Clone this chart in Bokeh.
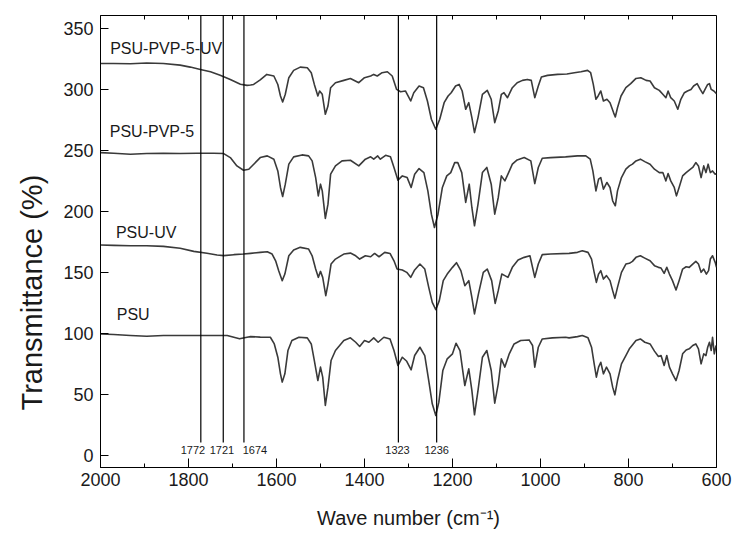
from bokeh.plotting import figure
from bokeh.models import Range1d, FixedTicker, Label, Title
from bokeh.embed import file_html
from bokeh.resources import INLINE

# ---------------- data ----------------
series_names = ["PSU", "PSU-UV", "PSU-PVP-5", "PSU-PVP-5-UV"]

wn_psu = [2000, 1970, 1932, 1895, 1857, 1819, 1781, 1743, 1712, 1697, 1684, 1667, 1659, 1637, 1614,
          1605, 1597, 1591, 1587, 1581, 1574, 1565, 1549, 1530, 1521, 1514, 1506, 1500, 1495, 1489,
          1483, 1476, 1466, 1447, 1432, 1420, 1411, 1400, 1390, 1379, 1369, 1356, 1342, 1333, 1324,
          1314, 1304, 1294, 1286, 1274, 1263, 1254, 1246, 1238, 1231, 1222, 1212, 1200, 1192, 1183,
          1172, 1163, 1156, 1150, 1142, 1132, 1122, 1112, 1104, 1096, 1089, 1081, 1071, 1060, 1045,
          1026, 1018, 1013, 1005, 996, 973, 943, 935, 916, 905, 892, 884, 878, 873, 868,
          863, 857, 850, 842, 836, 831, 825, 816, 806, 798, 792, 783, 773, 763, 751,
          741, 732, 726, 719, 713, 707, 700, 692, 685, 677, 669, 662, 654, 647, 641,
          635, 629, 624, 620, 616, 612, 609, 605, 601]
t_psu = [99.5, 99.0, 98.2, 97.6, 98.2, 98.2, 98.2, 98.2, 98.2, 96.8, 95.5, 96.8, 97.3, 96.9, 96.8,
         91.3, 80.4, 66.8, 60.0, 66.8, 85.9, 94.1, 96.8, 96.3, 91.3, 77.7, 61.3, 72.3, 64.1, 40.9,
         55.9, 77.7, 85.9, 94.1, 96.3, 92.7, 89.2, 94.1, 92.7, 96.3, 92.7, 96.8, 95.4, 85.9, 73.6,
         80.4, 77.1, 70.1, 81.8, 88.6, 81.8, 61.3, 42.2, 32.7, 43.6, 69.5, 79.1, 83.2, 91.9, 85.9,
         57.2, 70.9, 53.2, 33.2, 53.2, 80.4, 85.9, 69.5, 42.8, 58.6, 79.1, 72.3, 83.2, 91.3, 94.1,
         94.6, 90.0, 72.3, 88.6, 95.4, 96.3, 96.8, 96.3, 97.3, 98.2, 96.3, 88.6, 75.0, 64.1, 72.3,
         76.3, 66.8, 72.3, 66.8, 55.9, 49.6, 61.3, 75.0, 81.8, 87.3, 90.0, 94.1, 95.4, 92.7, 91.3,
         85.4, 81.0, 81.8, 73.6, 81.8, 72.3, 66.8, 61.3, 69.5, 83.2, 86.4, 87.3, 90.0, 91.3, 87.3,
         75.0, 83.2, 81.8, 88.6, 92.7, 85.9, 96.8, 83.2, 90.0]

wn_uv = [2000, 1970, 1932, 1895, 1857, 1819, 1788, 1758, 1735, 1720, 1697, 1675, 1659, 1637, 1621,
         1610, 1602, 1595, 1587, 1581, 1572, 1561, 1546, 1527, 1519, 1511, 1505, 1500, 1495, 1488,
         1483, 1476, 1466, 1447, 1432, 1420, 1411, 1398, 1386, 1377, 1367, 1354, 1342, 1333, 1326,
         1314, 1304, 1295, 1286, 1274, 1263, 1254, 1246, 1238, 1230, 1221, 1212, 1200, 1191, 1181,
         1172, 1163, 1156, 1150, 1141, 1130, 1121, 1111, 1103, 1096, 1088, 1081, 1074, 1064, 1051,
         1037, 1024, 1013, 1005, 996, 977, 935, 916, 905, 892, 884, 878, 873, 868, 863,
         857, 850, 842, 836, 831, 825, 816, 806, 798, 791, 783, 773, 763, 751, 741,
         732, 726, 719, 713, 707, 700, 692, 685, 677, 669, 662, 654, 647, 641, 635,
         629, 623, 618, 614, 609, 603, 600]
t_uv = [172.4, 172.1, 171.8, 171.8, 171.3, 169.7, 167.2, 165.6, 164.2, 163.7, 164.5, 165.0, 165.6, 166.4, 166.9,
        165.0, 159.5, 151.4, 143.2, 148.6, 163.6, 168.3, 170.5, 169.1, 163.6, 152.7, 145.9, 150.8, 145.9, 130.9,
        140.4, 156.8, 160.9, 165.0, 165.8, 163.6, 160.9, 163.6, 162.8, 165.5, 162.8, 166.4, 165.5, 159.5, 152.7,
        151.9, 150.0, 145.9, 152.0, 156.8, 152.7, 137.7, 125.4, 119.4, 126.8, 143.2, 148.6, 154.1, 157.9, 151.4,
        139.1, 143.2, 129.5, 115.9, 132.3, 150.0, 152.7, 143.2, 124.6, 135.0, 148.6, 147.3, 145.9, 154.1, 160.1,
        162.3, 163.6, 145.9, 156.8, 164.5, 165.0, 165.6, 166.4, 167.7, 166.4, 160.9, 150.0, 141.8, 148.6, 151.4,
        144.5, 147.3, 143.2, 135.0, 128.7, 137.7, 150.0, 156.8, 157.4, 159.0, 162.3, 163.6, 161.7, 159.5, 155.5,
        154.1, 153.5, 149.2, 154.1, 148.6, 143.2, 135.5, 143.2, 152.7, 154.6, 154.1, 156.8, 159.0, 156.8, 150.0,
        152.7, 148.6, 151.4, 160.9, 163.6, 158.2, 154.1]

wn_p5 = [2000, 1970, 1932, 1895, 1857, 1819, 1781, 1743, 1720, 1705, 1690, 1675, 1663, 1650, 1637,
         1621, 1606, 1597, 1591, 1586, 1580, 1572, 1561, 1542, 1527, 1519, 1511, 1505, 1500, 1496,
         1489, 1483, 1477, 1466, 1451, 1432, 1413, 1398, 1386, 1379, 1370, 1364, 1352, 1341, 1333,
         1324, 1314, 1303, 1294, 1286, 1276, 1265, 1256, 1248, 1241, 1233, 1223, 1213, 1204, 1195,
         1188, 1179, 1170, 1162, 1156, 1150, 1142, 1132, 1122, 1112, 1104, 1096, 1089, 1081, 1074,
         1064, 1053, 1037, 1022, 1013, 1005, 996, 977, 943, 916, 897, 887, 881, 874, 868,
         863, 857, 849, 842, 836, 830, 825, 816, 806, 798, 791, 783, 773, 763, 751,
         741, 730, 722, 715, 710, 704, 696, 691, 685, 677, 669, 662, 654, 647, 641,
         635, 629, 624, 619, 614, 609, 603, 600]
t_p5 = [248.2, 247.6, 246.8, 247.4, 247.6, 247.4, 247.6, 247.6, 247.4, 244.1, 237.3, 233.7, 234.5, 239.3, 244.1,
        245.5, 242.8, 233.2, 219.6, 212.2, 222.3, 238.7, 244.7, 246.3, 245.5, 241.4, 227.7, 212.7, 222.3, 216.8,
        194.2, 205.9, 230.5, 237.3, 241.4, 241.9, 237.3, 242.8, 244.7, 242.8, 245.5, 242.8, 246.0, 244.7, 236.0,
        225.6, 229.1, 227.7, 219.6, 230.5, 235.1, 231.8, 216.8, 197.7, 186.8, 197.7, 219.6, 229.1, 231.8, 240.0,
        240.0, 231.8, 207.3, 222.3, 203.2, 188.2, 205.9, 231.8, 236.0, 222.3, 197.7, 211.4, 229.1, 225.0, 230.5,
        238.7, 242.2, 244.1, 241.4, 222.8, 236.0, 243.6, 244.1, 244.7, 245.5, 245.5, 242.8, 233.2, 216.8, 226.4,
        227.7, 218.2, 223.7, 219.6, 208.7, 204.6, 216.8, 227.7, 234.6, 237.3, 238.7, 241.4, 242.8, 240.8, 238.7,
        234.6, 231.8, 231.8, 225.0, 231.0, 225.0, 219.6, 212.7, 219.6, 229.1, 231.8, 233.8, 236.0, 240.0, 237.3,
        227.7, 237.3, 231.8, 238.7, 231.8, 233.2, 230.5, 231.0]

wn_uv5 = [2000, 1970, 1932, 1895, 1857, 1819, 1796, 1773, 1750, 1728, 1705, 1682, 1667, 1659, 1652,
          1637, 1622, 1606, 1597, 1591, 1586, 1580, 1572, 1561, 1546, 1530, 1521, 1514, 1506, 1502,
          1496, 1489, 1483, 1477, 1466, 1447, 1432, 1413, 1400, 1386, 1379, 1371, 1360, 1348, 1337,
          1327, 1318, 1307, 1295, 1288, 1276, 1266, 1257, 1248, 1238, 1229, 1219, 1210, 1203, 1193,
          1185, 1178, 1170, 1163, 1156, 1150, 1142, 1132, 1121, 1112, 1104, 1096, 1089, 1083, 1075,
          1064, 1053, 1041, 1030, 1021, 1013, 1005, 998, 984, 961, 940, 923, 908, 893, 886,
          880, 874, 869, 863, 857, 849, 842, 834, 830, 825, 817, 806, 795, 783, 772,
          760, 751, 741, 730, 722, 715, 710, 704, 696, 688, 681, 673, 666, 658, 652,
          644, 637, 631, 624, 620, 616, 612, 606, 600]
t_uv5 = [321.3, 321.3, 321.0, 321.6, 321.3, 319.9, 318.3, 316.4, 314.5, 311.7, 308.2, 304.3, 303.3, 303.6, 304.1,
         307.8, 312.3, 311.0, 304.0, 294.6, 289.7, 296.0, 309.6, 315.6, 318.3, 317.8, 313.7, 304.1, 294.6, 298.7,
         296.0, 279.6, 286.4, 301.4, 305.5, 307.4, 309.0, 305.5, 309.6, 311.0, 312.3, 311.0, 313.7, 314.5, 311.0,
         300.0, 298.1, 298.7, 290.5, 297.3, 302.8, 301.4, 290.5, 275.5, 267.3, 275.5, 289.1, 294.6, 297.3, 302.8,
         304.1, 298.7, 283.7, 289.1, 276.9, 264.6, 276.9, 295.9, 299.2, 291.9, 272.8, 282.3, 295.9, 297.3, 293.2,
         301.4, 305.5, 307.4, 308.2, 307.4, 293.2, 302.8, 310.1, 311.5, 312.3, 312.6, 313.7, 314.5, 315.6, 313.7,
         304.1, 291.9, 294.6, 298.7, 290.5, 291.9, 289.1, 281.0, 277.4, 285.0, 294.6, 301.4, 304.7, 309.0, 309.6,
         307.4, 306.9, 301.4, 299.2, 296.0, 293.2, 298.7, 293.2, 290.5, 283.7, 291.9, 297.3, 298.7, 300.0, 302.8,
         304.7, 300.0, 296.5, 301.4, 304.1, 304.7, 300.0, 298.7, 296.5]

peaks = [1772, 1721, 1674, 1323, 1236]
peak_labels = ["1772", "1721", "1674", "1323", "1236"]
x_major_ticks = [2000, 1800, 1600, 1400, 1200, 1000, 800, 600]
x_minor_ticks = [1900, 1700, 1500, 1300, 1100, 900, 700]
y_ticks = [0, 50, 100, 150, 200, 250, 300, 350]

# ---------------- figure ----------------
FONT = "Liberation Sans"
INK = "#1a1a1a"
CURVE = "#3a3a3a"
Y0, Y1 = -10, 360.6

p = figure(width=736, height=533, x_range=Range1d(2000, 600), y_range=Range1d(Y0, Y1),
           output_backend="svg", toolbar_location=None,
           min_border_left=100, min_border_right=20, min_border_top=15, min_border_bottom=66)
p.xgrid.visible = False
p.ygrid.visible = False
p.outline_line_color = "black"
p.outline_line_width = 1
p.background_fill_color = "white"
p.border_fill_color = "white"

# left axis
ya = p.yaxis[0]
ya.ticker = FixedTicker(ticks=y_ticks)
ya.major_tick_in = 8
ya.major_tick_out = 0
ya.minor_tick_in = 0
ya.minor_tick_out = 0
ya.major_label_standoff = 7
ya.major_label_text_font = FONT
ya.major_label_text_font_size = "18px"
ya.major_label_text_color = INK
ya.axis_line_color = "black"

# y-axis title as a left-side title, starting a little above the frame bottom
p.add_layout(Title(text="Transmittance (%)", align="left", offset=57, standoff=26,
                   text_font=FONT, text_font_size="29px", text_font_style="normal",
                   text_color=INK), "left")

# bottom axis
xa = p.xaxis[0]
xa.ticker = FixedTicker(ticks=x_major_ticks, minor_ticks=x_minor_ticks)
xa.major_tick_in = 9
xa.major_tick_out = 0
xa.minor_tick_in = 4
xa.minor_tick_out = 0
xa.major_label_standoff = 5
xa.major_label_text_font = FONT
xa.major_label_text_font_size = "18px"
xa.major_label_text_color = INK
xa.axis_label = "Wave number (cm\u207b\u00b9)"
xa.axis_label_text_font = FONT
xa.axis_label_text_font_size = "20px"
xa.axis_label_text_font_style = "normal"
xa.axis_label_text_color = INK
xa.axis_label_standoff = 18
xa.axis_line_color = "black"

# short inward ticks along the top edge
top_ticks = x_major_ticks + x_minor_ticks
tick_len = 4.0 * (Y1 - Y0) / 452.0
p.segment(x0=top_ticks, y0=[Y1 - tick_len] * len(top_ticks), x1=top_ticks, y1=[Y1] * len(top_ticks),
          line_color="black", line_width=1)

# spectra
curves = [(wn_psu, t_psu), (wn_uv, t_uv), (wn_p5, t_p5), (wn_uv5, t_uv5)]
for (wx, ty) in curves:
    p.line(wx, ty, line_color=CURVE, line_width=1.6, line_join="round")

# peak marker lines
p.segment(x0=peaks, y0=[10.6] * len(peaks), x1=peaks, y1=[Y1] * len(peaks),
          line_color="black", line_width=1.2)

# peak labels
label_dx = [18, 3, -25, 2, 0]
for wv, txt, dx in zip(peaks, peak_labels, label_dx):
    p.add_layout(Label(x=wv + dx, y=4.7, text=txt, text_align="center", text_baseline="middle",
                       text_font=FONT, text_font_size="11px", text_color=INK))

# curve name labels
name_pos = [(1963, 115.4), (1965, 182.7), (1979, 265.7), (1978, 333.5)]
for name, (lx, ly) in zip(series_names, name_pos):
    p.add_layout(Label(x=lx, y=ly, text=name, text_align="left", text_baseline="middle",
                       text_font=FONT, text_font_size="16px", text_color=INK))

open("out.html", "w").write(file_html(p, INLINE))
